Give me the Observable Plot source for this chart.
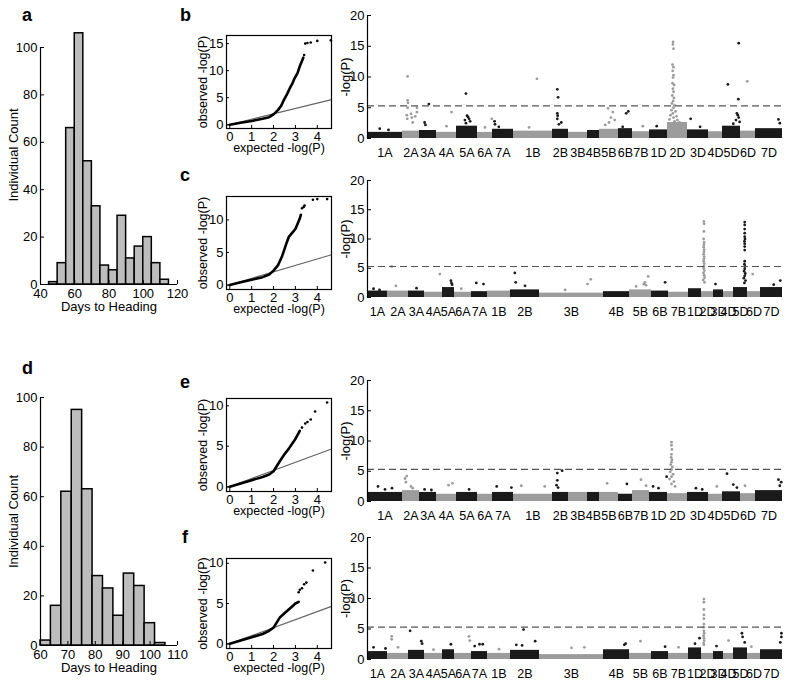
<!DOCTYPE html>
<html><head><meta charset="utf-8">
<script src="https://cdn.jsdelivr.net/npm/d3@7"></script>
<script src="https://cdn.jsdelivr.net/npm/@observablehq/plot@0.6"></script>
<style>
body{margin:0;background:#fff;}
#fig{position:relative;width:787px;height:681px;overflow:hidden;background:#fff;font-family:"Liberation Sans",Arial,sans-serif;}
#fig svg{position:absolute;}
.lab{position:absolute;font-weight:bold;font-size:18px;line-height:18px;color:#000;}
</style></head><body><div id="fig"></div><script>
// ---------- DATA ----------
// Histogram a (Days to Heading, bins of 5 days)
const histAStart = [45,50,55,60,65,70,75,80,85,90,95,100,105,110];
const histACount = [1,9,66,106,52,33,8,6,29,11,16,20,9,2];
const histABin = 5;
const histAXTicks = [40,60,80,100,120];
// Histogram d
const histDStart = [60,63.8,67.6,71.4,75.2,79,82.8,86.6,90.4,94.2,98,101.8];
const histDCount = [2,16,62,95,63,28,23,12,29,24,9,1];
const histDBin = 3.8;
const histDXTicks = [60,70,80,90,100,110];
const histYTicks = [0,20,40,60,80,100];

// QQ plots: dense part (line through observed points) and sparse top points
const qqBLine = [[0,0],[0.5,0.35],[1,0.7],[1.5,1.1],[1.8,1.4],[2.0,1.9],[2.2,2.7],[2.35,3.5],[2.45,4.4],[2.6,5.5],[2.75,6.8],[2.86,7.6],[2.95,8.5],[3.1,9.6],[3.2,10.8],[3.3,11.8],[3.36,12.4]];
const qqBDots = [[3.4,12.9],[3.45,15.0],[3.55,15.1],[3.7,15.2],[4.0,15.5],[4.62,15.6]];
const qqCLine = [[0,0],[0.5,0.4],[1,0.8],[1.5,1.2],[1.8,1.6],[2.0,2.2],[2.2,3.0],[2.4,4.5],[2.5,5.5],[2.6,6.5],[2.7,7.4],[2.85,8.0],[3.0,8.6],[3.1,9.4],[3.2,10.2],[3.25,10.8]];
const qqCDots = [[3.3,11.8],[3.38,12.0],[3.42,12.2],[3.8,13.1],[4.0,13.2],[4.45,13.2]];
const qqELine = [[0,0],[0.5,0.4],[1,0.8],[1.5,1.2],[1.8,1.5],[2.0,1.9],[2.3,3.2],[2.5,4.0],[2.7,4.7],[2.85,5.3],[3.0,5.9],[3.1,6.4],[3.2,6.9]];
const qqEDots = [[3.3,7.3],[3.45,7.8],[3.55,8.0],[3.7,8.3],[3.9,9.3],[4.45,10.4]];
const qqFLine = [[0,0],[0.5,0.4],[1,0.8],[1.5,1.2],[1.8,1.6],[2.0,2.0],[2.3,3.3],[2.55,3.9],[2.8,4.5],[3.0,5.0],[3.15,5.2]];
const qqFDots = [[3.15,6.4],[3.2,6.7],[3.3,6.9],[3.4,7.4],[3.5,7.6],[3.8,9.1],[4.36,10.1]];
const qqRef = [[-0.15,-0.15],[4.65,4.65]];
const qqXTicks = [0,1,2,3,4];

// Manhattan plots
const chroms = ["1A","2A","3A","4A","5A","6A","7A","1B","2B","3B","4B","5B","6B","7B","1D","2D","3D","4D","5D","6D","7D"];
const lensBE = [35,17,17,20,21,15,21,39,16,19,12,19,14,17,18,20,21,14,18,15,27];
const lensCF = [20,21,16,18,12,17,16,23,29,64,26,22,17,20,13,12,10,10,14,13,22];
const bandB = [1.0,1.2,1.3,1.0,2.0,1.0,1.5,1.2,1.5,1.0,1.3,1.5,1.6,1.1,1.4,2.6,1.4,1.1,2.0,1.2,1.6];
const bandC = [1.1,1.1,1.1,0.9,1.7,0.9,1.0,1.1,1.3,0.75,1.0,1.3,1.1,0.9,1.5,1.0,1.3,1.0,1.7,1.0,1.7];
const bandE = [1.5,1.8,1.5,1.2,1.5,1.2,1.5,1.2,1.5,1.5,1.5,1.5,1.2,1.8,1.5,1.3,1.5,1.2,1.6,1.3,1.8];
const bandF = [1.3,1.0,1.5,1.0,1.6,1.0,1.3,1.0,1.5,0.8,1.6,1.0,1.3,1.0,1.9,1.0,1.3,1.0,1.9,1.0,1.6];
const threshold = 5.3;
const manYTicks = [0,5,10,15,20];
// [chromosome, relative position within chromosome, -log(P)]
const peaksB = [
 ["1A",0.35,1.6],["1A",0.6,1.4],
 ["2A",0.3,10.1],["2A",0.3,6.2],["2A",0.32,5.8],["2A",0.3,5.0],["2A",0.25,3.8],["2A",0.28,3.2],["2A",0.5,4.0],["2A",0.55,3.4],["2A",0.75,3.6],["2A",0.85,5.0],["2A",0.85,4.3],["2A",0.6,2.6],
 ["3A",0.55,5.6],["3A",0.3,2.6],["3A",0.35,2.2],
 ["4A",0.75,4.3],["4A",0.5,2.0],
 ["5A",0.45,7.3],["5A",0.5,3.7],["5A",0.55,3.5],["5A",0.6,3.2],["5A",0.4,3.0],["5A",0.65,2.8],["5A",0.45,2.5],
 ["6A",0.95,3.2],["6A",0.5,1.8],
 ["7A",0.1,2.8],["7A",0.12,2.3],["7A",0.3,1.9],
 ["1B",0.6,9.7],["1B",0.4,1.8],
 ["2B",0.3,8.0],["2B",0.35,6.7],["2B",0.3,4.1],["2B",0.32,3.7],["2B",0.3,3.2],["2B",0.55,2.6],["2B",0.4,2.3],
 ["5B",0.45,4.9],["5B",0.7,4.3],["5B",0.6,3.4],["5B",0.8,3.0],["5B",0.5,2.6],["5B",0.3,2.2],
 ["6B",0.55,4.1],["6B",0.7,4.4],["6B",0.3,1.9],
 ["7B",0.6,2.0],["1D",0.4,2.0],
 ["2D",0.28,15.7],["2D",0.27,15.3],["2D",0.3,14.6],["2D",0.25,12.0],["2D",0.3,11.6],["2D",0.26,11.0],["2D",0.3,10.3],["2D",0.28,9.9],["2D",0.25,9.0],["2D",0.33,8.7],["2D",0.27,8.1],["2D",0.3,7.6],["2D",0.24,7.0],["2D",0.32,6.6],["2D",0.28,6.1],["2D",0.22,5.7],["2D",0.35,5.4],["2D",0.3,5.0],["2D",0.2,4.6],["2D",0.4,4.4],["2D",0.27,4.1],["2D",0.15,3.8],["2D",0.45,3.6],["2D",0.3,3.4],["2D",0.1,3.1],["2D",0.5,3.0],["2D",0.35,2.8],["2D",0.6,2.6],
 ["3D",0.15,3.2],["3D",0.6,1.9],
 ["5D",0.3,8.8],["5D",0.9,15.5],["5D",0.88,6.4],["5D",0.8,4.1],["5D",0.85,3.8],["5D",0.9,3.4],["5D",0.75,3.0],["5D",0.95,2.7],["5D",0.6,2.4],
 ["6D",0.45,9.3],
 ["7D",0.85,3.1],["7D",0.9,2.5]
];
const peaksC = [
 ["1A",0.3,1.5],["1A",0.6,1.3],
 ["2A",0.2,5.3],["2A",0.4,2.0],["3A",0.5,1.6],["4A",0.85,4.0],
 ["5A",0.7,2.9],["5A",0.75,2.5],["5A",0.8,2.2],["6A",0.4,1.5],
 ["7A",0.3,2.5],["7A",0.75,2.3],
 ["2B",0.15,4.2],["2B",0.18,2.6],["2B",0.5,2.0],
 ["3B",0.75,2.3],["3B",0.8,3.1],["3B",0.4,1.3],
 ["5B",0.3,1.9],["5B",0.85,3.6],["5B",0.7,2.6],["5B",0.65,2.3],["5B",0.75,2.1],["6B",0.8,2.6],
 ["2D",0.2,13.0],["2D",0.22,12.6],["2D",0.2,11.3],["2D",0.18,10.0],["2D",0.22,9.4],["2D",0.2,9.0],["2D",0.18,8.6],["2D",0.22,8.2],["2D",0.2,7.8],["2D",0.18,7.4],["2D",0.22,7.0],["2D",0.2,6.6],["2D",0.18,6.2],["2D",0.22,5.8],["2D",0.2,5.4],["2D",0.18,5.0],["2D",0.24,4.6],["2D",0.16,4.2],["2D",0.22,3.8],["2D",0.26,3.4],["2D",0.15,3.0],["2D",0.25,2.6],
 ["3D",0.2,2.3],
 ["5D",0.8,12.9],["5D",0.8,12.4],["5D",0.8,11.7],["5D",0.8,11.0],["5D",0.8,10.4],["5D",0.82,10.0],["5D",0.78,9.6],["5D",0.8,9.2],["5D",0.8,8.7],["5D",0.8,8.1],["5D",0.8,6.2],["5D",0.78,5.7],["5D",0.82,5.3],["5D",0.8,4.9],["5D",0.76,4.5],["5D",0.84,4.1],["5D",0.8,3.7],["5D",0.74,3.3],["5D",0.86,2.9],["5D",0.78,2.5],
 ["6D",0.4,4.0],
 ["7D",0.9,2.9],["7D",0.6,2.2]
];
const peaksE = [
 ["1A",0.3,2.5],["1A",0.5,2.0],["1A",0.7,2.2],
 ["2A",0.15,3.8],["2A",0.25,4.2],["2A",0.2,3.2],["2A",0.5,2.5],["2A",0.6,2.2],
 ["3A",0.3,2.0],["3A",0.7,1.9],["4A",0.6,2.7],["4A",0.8,3.0],["5A",0.6,2.0],
 ["7A",0.2,2.5],["7A",0.9,2.3],["1B",0.2,2.6],["1B",0.8,2.5],
 ["2B",0.3,4.7],["2B",0.6,5.1],["2B",0.3,3.5],["2B",0.25,2.7],["2B",0.35,2.3],
 ["5B",0.4,3.0],["6B",0.6,2.9],["7B",0.5,3.6],["7B",0.8,2.6],
 ["1D",0.2,2.5],["1D",0.5,2.2],["1D",0.95,4.1],
 ["2D",0.2,9.8],["2D",0.2,9.3],["2D",0.22,8.6],["2D",0.2,7.8],["2D",0.18,7.3],["2D",0.22,6.9],["2D",0.2,6.5],["2D",0.16,6.1],["2D",0.24,5.7],["2D",0.2,5.3],["2D",0.14,4.9],["2D",0.28,4.5],["2D",0.2,4.1],["2D",0.1,3.7],["2D",0.32,3.3],["2D",0.2,2.9],["2D",0.38,2.5],
 ["3D",0.4,2.2],["3D",0.7,2.0],["4D",0.6,2.5],
 ["5D",0.25,4.6],["5D",0.6,2.8],["5D",0.8,2.3],["6D",0.3,2.6],
 ["7D",0.85,3.6],["7D",0.95,3.2],["7D",0.9,2.6]
];
const peaksF = [
 ["1A",0.3,2.0],["1A",0.9,1.8],
 ["2A",0.2,3.8],["2A",0.2,3.3],["2A",0.5,2.0],
 ["3A",0.1,4.7],["3A",0.8,3.0],["3A",0.85,2.6],["4A",0.5,1.6],["5A",0.7,2.5],
 ["6A",0.85,3.8],["6A",0.9,3.1],["7A",0.5,2.5],["7A",0.7,2.5],["7A",0.2,2.2],["1B",0.5,1.7],
 ["2B",0.45,4.9],["2B",0.85,3.0],["2B",0.2,2.4],["2B",0.4,2.3],
 ["3B",0.5,1.9],["3B",0.7,2.0],["4B",0.85,2.6],["4B",0.8,2.4],["5B",0.5,3.0],["6B",0.8,2.1],["7B",0.5,2.0],
 ["1D",0.5,2.6],["1D",0.85,3.5],
 ["2D",0.2,9.9],["2D",0.2,9.4],["2D",0.2,8.2],["2D",0.2,7.3],["2D",0.2,6.7],["2D",0.2,5.8],["2D",0.2,5.3],["2D",0.2,4.7],["2D",0.22,4.3],["2D",0.18,3.9],["2D",0.2,3.5],["2D",0.22,3.1],["2D",0.18,2.7],["2D",0.2,2.4],
 ["3D",0.3,2.2],["4D",0.5,3.1],
 ["5D",0.6,4.3],["5D",0.65,3.7],["5D",0.8,2.8],["6D",0.3,2.1],
 ["7D",0.95,4.3],["7D",0.95,3.7],["7D",0.9,2.8]
];

// ---------- DRAWING ----------
const FONT = '"Liberation Sans", Arial, sans-serif';
const fig = document.getElementById("fig");
const baseStyle = {background: "transparent", overflow: "visible", fontFamily: FONT, fontSize: "13px", color: "#000"};
const fmt = d => String(d);
function place(svg, left, top) { svg.style.left = left + "px"; svg.style.top = top + "px"; fig.appendChild(svg); }
function letter(t, x, y) { const d = document.createElement("div"); d.className = "lab"; d.textContent = t; d.style.left = x + "px"; d.style.top = y + "px"; fig.appendChild(d); }

function hist(starts, counts, bin, xdom, xticks, height, mt, mb, labelShift) {
  const data = starts.map((s, i) => ({x1: s, x2: s + bin, y: counts[i]}));
  return Plot.plot({
    width: 190, height, marginLeft: 40, marginRight: 13, marginTop: mt, marginBottom: mb,
    x: {domain: xdom}, y: {domain: [0, 100]}, style: baseStyle,
    marks: [
      Plot.rectY(data, {x1: "x1", x2: "x2", y: "y", fill: "#bdbdbd", stroke: "#000", strokeWidth: 1.5}),
      Plot.ruleX([xdom[0]], {y1: 0, y2: 100, stroke: "#000", strokeWidth: 1.2}),
      Plot.ruleY([0], {stroke: "#000", strokeWidth: 1.2}),
      Plot.axisX({ticks: xticks, tickFormat: fmt, tickSize: -4, tickPadding: 8, label: null}),
      Plot.axisY({ticks: histYTicks, tickFormat: fmt, tickSize: -4, tickPadding: 7, label: null}),
      Plot.text(["Days to Heading"], {frameAnchor: "bottom", dy: 26}),
      Plot.text(["Individual Count"], {frameAnchor: "left", textAnchor: "middle", rotate: -90, dx: -27, dy: labelShift})
    ]
  });
}

function qq(line, dots, ydom, yticks, height, mt, mb) {
  return Plot.plot({
    width: 160, height, marginLeft: 46, marginRight: 9, marginTop: mt, marginBottom: mb,
    x: {domain: [-0.15, 4.65]}, y: {domain: ydom}, style: baseStyle,
    marks: [
      Plot.line(qqRef, {stroke: "#666", strokeWidth: 1.2}),
      Plot.line(line, {stroke: "#000", strokeWidth: 2.6}),
      Plot.dot(dots, {r: 1.3, fill: "#000"}),
      Plot.frame({stroke: "#000", strokeWidth: 1.2}),
      Plot.axisX({ticks: qqXTicks, tickFormat: fmt, tickSize: -3, tickPadding: 6, label: null}),
      Plot.axisY({ticks: yticks, tickFormat: fmt, tickSize: -3, tickPadding: 6, label: null}),
      Plot.text(["expected -log(P)"], {frameAnchor: "bottom", dy: 23, fontSize: 12.5}),
      Plot.text(["observed -log(P)"], {frameAnchor: "left", textAnchor: "middle", rotate: -90, dx: -24, fontSize: 12.5})
    ]
  });
}

function manhattan(lens, band, peaks, height, mt, mb) {
  let acc = 0;
  const chr = chroms.map((c, i) => {
    const s = acc; acc += lens[i];
    return {c, start: s, end: acc, mid: s + lens[i] / 2, top: band[i], color: i % 2 ? "#9c9c9c" : "#1a1a1a"};
  });
  const byName = new Map(chr.map(d => [d.c, d]));
  const pts = peaks.map(([c, f, v]) => { const k = byName.get(c); return {x: k.start + f * (k.end - k.start), y: v, color: k.color}; });
  return Plot.plot({
    width: 487, height, marginLeft: 67, marginRight: 5, marginTop: mt, marginBottom: mb,
    x: {domain: [0, acc], axis: null}, y: {domain: [0, 20]}, color: {type: "identity"}, style: baseStyle,
    marks: [
      Plot.rect(chr, {x1: "start", x2: "end", y1: 0, y2: "top", fill: "color"}),
      Plot.dot(pts, {x: "x", y: "y", r: 1.4, fill: "color"}),
      Plot.ruleY([threshold], {stroke: "#555", strokeWidth: 1.2, strokeDasharray: "7,4"}),
      Plot.ruleX([0], {y1: 0, y2: 20, stroke: "#000", strokeWidth: 1.2}),
      Plot.axisY({ticks: manYTicks, tickFormat: fmt, tickSize: -4, tickPadding: 7, label: null}),
      Plot.text(chr, {x: "mid", y: 0, text: "c", dy: 14, fontSize: 12.5}),
      Plot.text(["-log(P)"], {frameAnchor: "left", textAnchor: "middle", rotate: -90, dx: -22})
    ]
  });
}

place(hist(histAStart, histACount, histABin, [40, 120], histAXTicks, 320, 47, 36, -11), 0, 0);
place(hist(histDStart, histDCount, histDBin, [60, 110], histDXTicks, 351, 67, 36, 0), 0, 330);

place(qq(qqBLine, qqBDots, [-0.7, 16.5], [0, 5, 10, 15], 160, 35, 32), 180, 0);
place(qq(qqCLine, qqCDots, [-0.7, 13.6], [0, 5, 10], 155, 31, 31), 180, 165);
place(qq(qqELine, qqEDots, [-0.6, 10.9], [0, 5, 10], 155, 28, 34), 180, 370);
place(qq(qqFLine, qqFDots, [-0.6, 10.6], [0, 5, 10], 156, 33, 33), 180, 525);

place(manhattan(lensBE, bandB, peaksB, 165, 15, 27), 300, 0);
place(manhattan(lensCF, bandC, peaksC, 165, 15, 33), 300, 165);
place(manhattan(lensBE, bandE, peaksE, 165, 10, 34), 300, 370);
place(manhattan(lensCF, bandF, peaksF, 151, 7, 22), 300, 530);

letter("a", 22, 6); letter("b", 180, 6); letter("c", 180, 166);
letter("d", 22, 359); letter("e", 180, 373); letter("f", 182, 528);
</script></body></html>
